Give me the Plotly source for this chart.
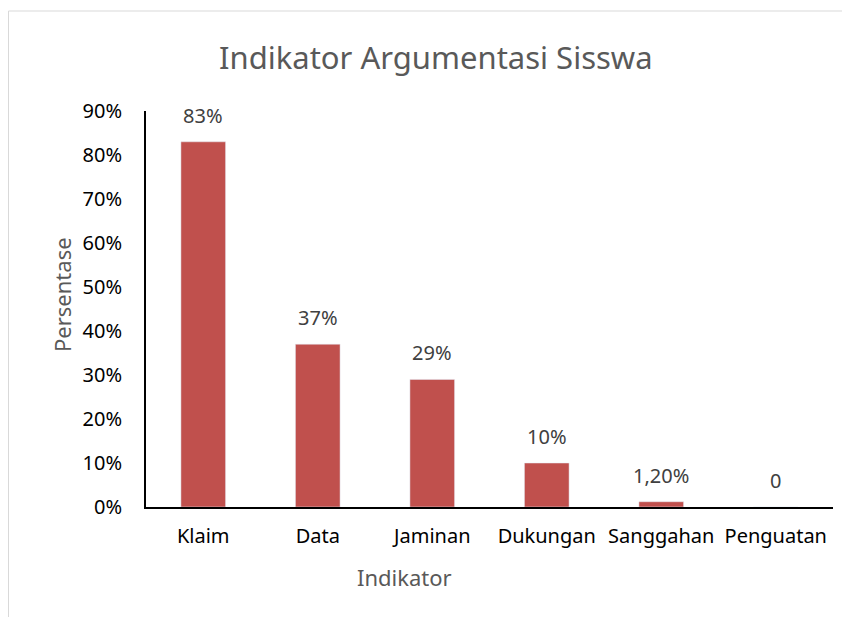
import plotly.graph_objects as go

categories = ["Klaim", "Data", "Jaminan", "Dukungan", "Sanggahan", "Penguatan"]
values = [0.83, 0.37, 0.29, 0.10, 0.012, 0.0]
value_labels = ["83%", "37%", "29%", "10%", "1,20%", "0"]
y_ticks = [0, 0.1, 0.2, 0.3, 0.4, 0.5, 0.6, 0.7, 0.8, 0.9]
title_text = "Indikator Argumentasi Sisswa"
x_title = "Indikator"
y_title = "Persentase"

FONT = "Noto Sans"
OFF = 8  # page body margin
W, H = 850 - OFF, 617 - OFF
# target plot area in window pixels
PL, PR, PT, PB = 146, 833, 111, 507
L, T = PL - OFF, PT - OFF
R, B = W - (PR - OFF), H - (PB - OFF)
pw, ph = W - L - R, H - T - B

def px(x):
    return (x - OFF - L) / pw

def py(y):
    return (H - B - (y - OFF)) / ph

fig = go.Figure()
fig.add_trace(go.Bar(
    x=categories, y=values, marker_color="#C0504D", width=0.39,
    hoverinfo="skip",
))

annotations = []
for c, v, t in zip(categories, values, value_labels):
    annotations.append(dict(
        x=c, y=v, xref="x", yref="y", text=t, showarrow=False,
        yanchor="bottom", yshift=11,
        font=dict(family=FONT, size=20, color="#404040"),
    ))
annotations.append(dict(
    x=px(436), y=py(57), xref="paper", yref="paper", text=title_text,
    showarrow=False, xanchor="center", yanchor="middle",
    font=dict(family=FONT, size=31, color="#595959"),
))
annotations.append(dict(
    x=px(404), y=py(577), xref="paper", yref="paper", text=x_title,
    showarrow=False, xanchor="center", yanchor="middle",
    font=dict(family=FONT, size=22, color="#595959"),
))
annotations.append(dict(
    x=px(62), y=py(295), xref="paper", yref="paper", text=y_title,
    showarrow=False, xanchor="center", yanchor="middle", textangle=-90,
    font=dict(family=FONT, size=22, color="#595959"),
))

shapes = [
    dict(type="line", xref="paper", yref="paper",
         x0=px(8.5), y0=py(11), x1=px(900), y1=py(11),
         line=dict(color="#D9D9D9", width=1)),
    dict(type="line", xref="paper", yref="paper",
         x0=px(8.5), y0=py(11), x1=px(8.5), y1=py(700),
         line=dict(color="#D9D9D9", width=1)),
]

fig.update_layout(
    width=W, height=H,
    margin=dict(l=L, r=R, t=T, b=B),
    paper_bgcolor="white", plot_bgcolor="white",
    showlegend=False,
    annotations=annotations,
    shapes=shapes,
    font=dict(family=FONT),
    xaxis=dict(
        showline=True, linecolor="black", linewidth=2,
        ticks="outside", ticklen=10, tickcolor="white",
        showgrid=False,
        tickfont=dict(family=FONT, size=20, color="black"),
        range=[-0.5, 5.5],
    ),
    yaxis=dict(
        range=[0, 0.9], tickvals=y_ticks, tickformat=".0%",
        showline=True, linecolor="black", linewidth=2,
        ticks="outside", ticklen=18, tickcolor="white",
        showgrid=False, zeroline=False,
        tickfont=dict(family=FONT, size=20, color="black"),
    ),
)

fig.write_html("out.html")
